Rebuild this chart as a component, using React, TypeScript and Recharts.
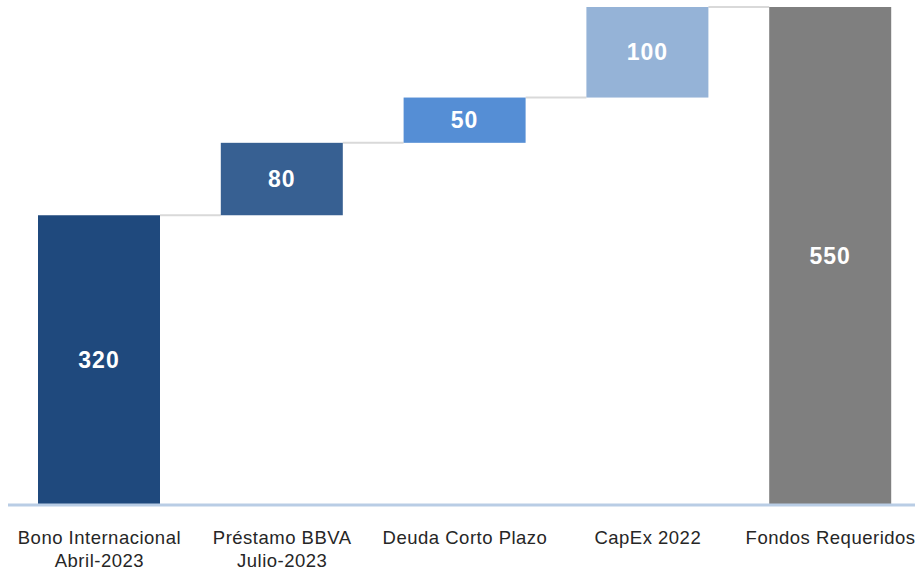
import React from "react";
import { BarChart, Bar, XAxis, YAxis, Cell, LabelList } from "recharts";

const categories = [
  ["Bono Internacional", "Abril-2023"],
  ["Préstamo BBVA", "Julio-2023"],
  ["Deuda Corto Plazo"],
  ["CapEx 2022"],
  ["Fondos Requeridos"],
];
const values = [320, 80, 50, 100, 550];
const isTotal = [false, false, false, false, true];
const colors = ["#1F497D", "#376092", "#558ED5", "#95B3D7", "#7F7F7F"];

const CHART_W = 922;
const CHART_H = 571;
const MARGIN = { top: 7, right: 0, bottom: 0, left: 8 };
const BAR_SIZE = 122;
const BAND = (CHART_W - MARGIN.left - MARGIN.right) / categories.length;
const FONT = "'Liberation Sans', Arial, Helvetica, sans-serif";

// waterfall: invisible base + visible step
let running = 0;
const data = categories.map((lines, i) => {
  const base = isTotal[i] ? 0 : running;
  if (!isTotal[i]) running += values[i];
  return { name: lines.join(" "), lines, base, value: values[i] };
});

function StepShape(props: any) {
  const { x, y, width, height, index, fill } = props;
  const last = index === data.length - 1;
  return (
    <g>
      {!last && (
        <line
          x1={x + width}
          x2={x + width + (BAND - BAR_SIZE)}
          y1={y}
          y2={y}
          stroke="#D9D9D9"
          strokeWidth={2}
        />
      )}
      <rect x={x} y={y} width={width} height={height} fill={fill} />
    </g>
  );
}

function CategoryTick(props: any) {
  const { x, y, index } = props;
  const lines = data[index]?.lines ?? [];
  return (
    <text
      x={x}
      y={y}
      textAnchor="middle"
      fill="#262626"
      fontSize={18.5}
      letterSpacing={0.5}
      fontFamily={FONT}
    >
      {lines.map((l: string, k: number) => (
        <tspan key={k} x={x} y={y + 39 + k * 23}>
          {l}
        </tspan>
      ))}
    </text>
  );
}

export default function App() {
  return (
    <div
      style={{
        position: "absolute",
        left: 0,
        top: 0,
        width: 915,
        height: 571,
        overflow: "hidden",
        background: "#fff",
      }}
    >
      <BarChart width={CHART_W} height={CHART_H} data={data} margin={MARGIN}>
        <XAxis
          dataKey="name"
          height={66}
          tickLine={false}
          tickSize={0}
          tickMargin={0}
          interval={0}
          axisLine={{ stroke: "#B9CDE5", strokeWidth: 3 }}
          tick={<CategoryTick />}
        />
        <YAxis hide domain={[0, 550]} />
        <Bar
          dataKey="base"
          stackId="w"
          fill="transparent"
          barSize={BAR_SIZE}
          isAnimationActive={false}
        />
        <Bar
          dataKey="value"
          stackId="w"
          barSize={BAR_SIZE}
          shape={<StepShape />}
          isAnimationActive={false}
        >
          {data.map((_, i) => (
            <Cell key={i} fill={colors[i]} />
          ))}
          <LabelList
            dataKey="value"
            position="center"
            fill="#FFFFFF"
            fontSize={23}
            letterSpacing={1}
            fontWeight="bold"
            fontFamily={FONT}
          />
        </Bar>
      </BarChart>
    </div>
  );
}
